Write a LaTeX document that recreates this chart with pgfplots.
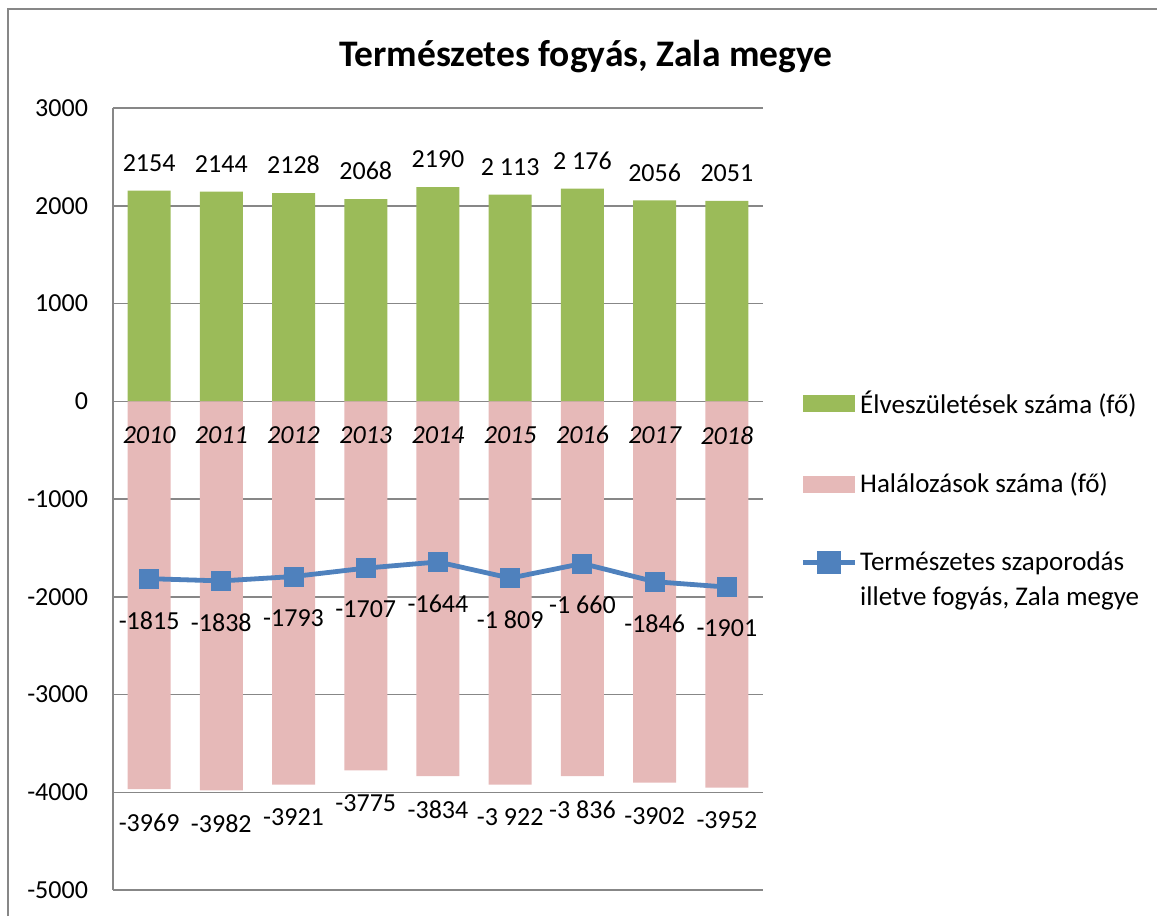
\documentclass[border=0pt]{standalone}
\usepackage{pgfplots}
\pgfplotsset{compat=1.18}
\usepackage{fontspec}
\setmainfont{Carlito}
\definecolor{cgreen}{HTML}{9BBB59}
\definecolor{cpink}{HTML}{E6B9B8}
\definecolor{cblue}{HTML}{4F81BD}
\definecolor{cgrid}{HTML}{878787}
\newcommand{\lbl}{\fontsize{13}{15.6}\selectfont}
\newcommand{\lgd}{\fontsize{13.5}{17.5}\selectfont}
\begin{document}
\begin{tikzpicture}
\useasboundingbox (0,0) rectangle (578.5pt,458pt);
\draw[cgrid, line width=0.75pt] (4pt,0) -- (4pt,453.5pt) -- (578.5pt,453.5pt);
\node[font=\fontsize{18.75}{22}\selectfont\bfseries] at (293pt,429.5pt) {Természetes fogyás, Zala megye};
\begin{axis}[
 at={(56.5pt,13pt)}, anchor=south west,
 scale only axis, width=325pt, height=391pt,
 xmin=-0.5, xmax=8.5, ymin=-5000, ymax=3000,
 ytick={-5000,-4000,...,3000},
 xtick=\empty,
 axis y line*=left, axis x line*=bottom, x axis line style={draw=none},
 y axis line style={cgrid, line width=0.75pt, -},
 ymajorgrids, grid style={cgrid, line width=0.75pt},
 major tick length=0pt,
 yticklabel style={font=\lbl, anchor=east, xshift=-9pt},
 /pgf/number format/assume math mode=true,
 /pgf/number format/set thousands separator={},
 bar width=21.5pt,
 point meta=explicit symbolic,
 legend cell align=left,
 legend style={at={(rel axis cs:1.057,0.643)}, anchor=north west, draw=none, fill=none,
   font=\lgd, row sep=25.3pt, inner sep=0pt, nodes={align=left, inner sep=1.5pt}},
]
\addplot[ybar, bar shift=0pt, fill=cgreen, draw=none,
  nodes near coords, nodes near coords style={font=\lbl, anchor=south, yshift=6pt},
  legend image code/.code={\fill[cgreen] (0pt,-4.25pt) rectangle (26pt,4.25pt);}]
 coordinates {(0,2154)[2154] (1,2144)[2144] (2,2128)[2128] (3,2068)[2068] (4,2190)[2190]
   (5,2113)[2 113] (6,2176)[2 176] (7,2056)[2056] (8,2051)[2051]};
\addlegendentry{Élveszületések száma (fő)}
\addplot[ybar, bar shift=0pt, fill=cpink, draw=none,
  nodes near coords, nodes near coords style={font=\lbl, anchor=north, yshift=-8.7pt},
  legend image code/.code={\fill[cpink] (0pt,-4.25pt) rectangle (26pt,4.25pt);}]
 coordinates {(0,-3969)[-3969] (1,-3982)[-3982] (2,-3921)[-3921] (3,-3775)[-3775] (4,-3834)[-3834]
   (5,-3922)[-3 922] (6,-3836)[-3 836] (7,-3902)[-3902] (8,-3952)[-3952]};
\addlegendentry{Halálozások száma (fő)}
\addplot[draw=none, mark=none, forget plot,
  nodes near coords, nodes near coords style={font=\lbl\itshape, anchor=north, yshift=-9pt, text=black}]
 coordinates {(0,0)[2010] (1,0)[2011] (2,0)[2012] (3,0)[2013] (4,0)[2014]
   (5,0)[2015] (6,0)[2016] (7,0)[2017] (8,0)[2018]};
\addplot[cblue, line width=2.4pt, mark=square*, mark size=4.75pt, mark options={solid, fill=cblue, draw=cblue, line width=0pt},
  nodes near coords, nodes near coords style={font=\lbl, anchor=north, yshift=-13pt, text=black},
  legend image code/.code={\draw[cblue, line width=2.4pt] (0pt,9pt) -- (26pt,9pt);
     \fill[cblue] (8.25pt,4.25pt) rectangle (17.75pt,13.75pt);}]
 coordinates {(0,-1815)[-1815] (1,-1838)[-1838] (2,-1793)[-1793] (3,-1707)[-1707] (4,-1644)[-1644]
   (5,-1809)[-1 809] (6,-1660)[-1 660] (7,-1846)[-1846] (8,-1901)[-1901]};
\addlegendentry{Természetes szaporodás\\illetve fogyás, Zala megye}
\end{axis}
\end{tikzpicture}
\end{document}
